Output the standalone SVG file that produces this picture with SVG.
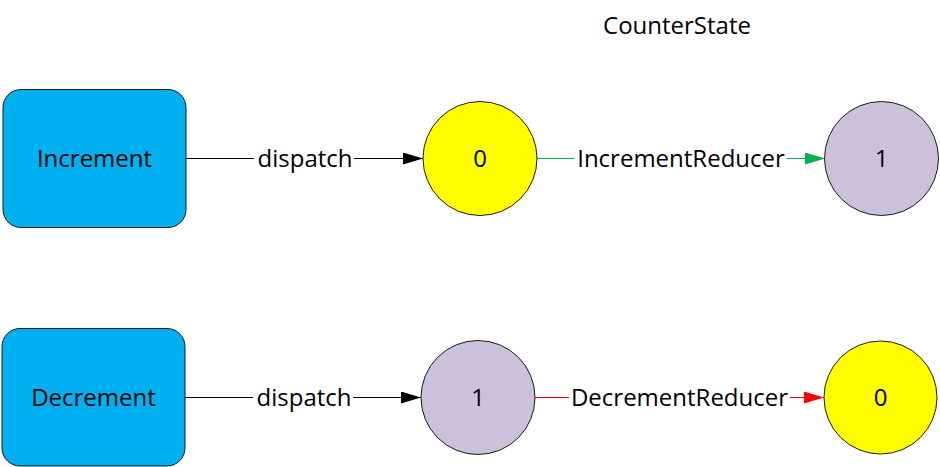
<svg xmlns="http://www.w3.org/2000/svg" width="940" height="467" viewBox="0 0 940 467">
<style>
.box{fill:#00B0F0;stroke:#1a1a1a;stroke-width:1}
.yel{fill:#FFFF00;stroke:#1a1a1a;stroke-width:1}
.lav{fill:#CCC1DA;stroke:#1a1a1a;stroke-width:1}
text{font-family:"Open Sans","Liberation Sans",sans-serif;font-size:24px;fill:#000;text-anchor:middle}
.blk{fill:none;stroke:#000;stroke-width:1.2}
.grn{fill:none;stroke:#00B050;stroke-width:1.2}
.red{fill:none;stroke:#E00000;stroke-width:1.2}
</style>
<defs>
<marker id="aB" markerWidth="20" markerHeight="12" refX="20" refY="6" orient="auto" markerUnits="userSpaceOnUse"><path d="M0,0 L20,6 L0,12 Z" fill="#000"/></marker>
<marker id="aG" markerWidth="20" markerHeight="12" refX="20" refY="6" orient="auto" markerUnits="userSpaceOnUse"><path d="M0,0 L20,6 L0,12 Z" fill="#00B050"/></marker>
<marker id="aR" markerWidth="20" markerHeight="12" refX="20" refY="6" orient="auto" markerUnits="userSpaceOnUse"><path d="M0,0 L20,6 L0,12 Z" fill="#FF0000"/></marker>
</defs>
<text id="title" x="677" y="34">CounterState</text>
<g id="connectors">
<path class="blk" d="M186 158.5 H254 M354 158.5 H423" marker-end="url(#aB)"/>
<text x="305" y="167">dispatch</text>
<path class="grn" d="M537 158.5 H574 M787 158.5 H825" marker-end="url(#aG)"/>
<text x="681" y="167">IncrementReducer</text>
<path class="blk" d="M185 397.5 H253 M353 397.5 H421" marker-end="url(#aB)"/>
<text x="304" y="406">dispatch</text>
<path class="red" d="M535 397.5 H569 M790 397.5 H824" marker-end="url(#aR)"/>
<text x="679.5" y="406">DecrementReducer</text>
</g>
<g id="increment"><rect class="box" x="3" y="89.5" width="183" height="138" rx="18"/><text x="94.5" y="167">Increment</text></g>
<g id="state0top"><circle class="yel" cx="480" cy="158.5" r="57"/><text x="480" y="167">0</text></g>
<g id="state1top"><circle class="lav" cx="881.5" cy="158.5" r="57"/><text x="881.5" y="167">1</text></g>
<g id="decrement"><rect class="box" x="2" y="328.5" width="183" height="137.5" rx="18"/><text x="93.5" y="406">Decrement</text></g>
<g id="state1bot"><circle class="lav" cx="478" cy="397.5" r="57"/><text x="478" y="406">1</text></g>
<g id="state0bot"><circle class="yel" cx="880.5" cy="397.5" r="56.5"/><text x="880.5" y="406">0</text></g>
</svg>
